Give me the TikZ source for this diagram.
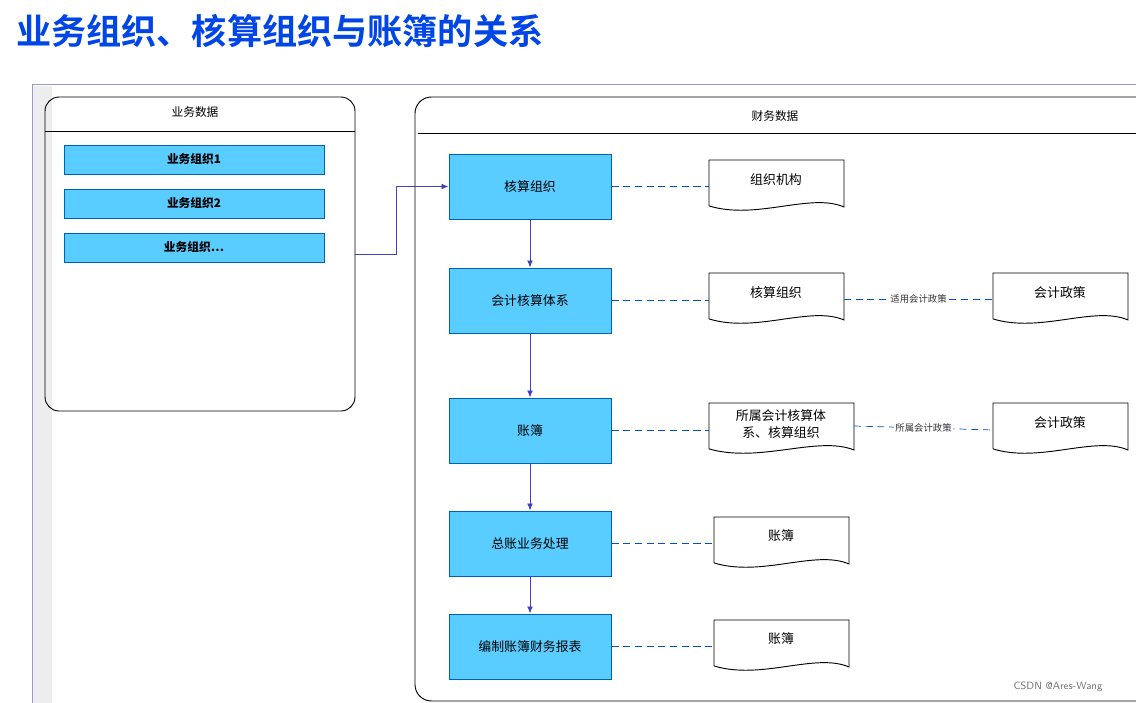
\documentclass[tikz,border=0pt]{standalone}
\usepackage{fontspec}
\setmainfont{Noto Sans CJK SC}
\newfontfamily\cjkb{Noto Sans CJK SC}[BoldFont=* Bold]
\usetikzlibrary{arrows.meta}
\begin{document}
\begin{tikzpicture}[x=0.03cm,y=-0.03cm,
  bar/.style={draw=blue!45!cyan!70!black,fill=blue!30!cyan!65,line width=0.8pt,inner sep=0},
  proc/.style={bar,minimum width=162*0.03cm,minimum height=65*0.03cm,font=\fontsize{11}{13}\selectfont},
  doc/.style={inner sep=0,align=center,font=\fontsize{11}{13}\selectfont},
  flow/.style={draw=blue!50!gray,line width=0.8pt,-{Latex[length=6pt,width=5pt]}},
  rel/.style={draw=blue!60!cyan!80!black,dash pattern=on 6pt off 4pt,line width=0.6pt},
  lab/.style={fill=white,inner sep=1pt,font=\fontsize{8}{9}\selectfont,text=black!80}]
\useasboundingbox (0,0) rectangle (1136,703);
% title
\node[anchor=west,text=blue!70!cyan!90!black,font=\cjkb\bfseries\fontsize{30}{32}\selectfont] (title) at (12,31) {业务组织、核算组织与账簿的关系};
% outer frame
\fill[black!7] (33,86) rectangle (52,703);
\draw[blue!35!gray!60,line width=0.8pt] (1136,84) -- (32,84) -- (32,703);
% left container
\draw[line width=0.8pt,rounded corners=12pt] (45,411) -- (45,97) -- (355,97) -- (355,411) -- cycle;
\draw[line width=0.8pt] (45,131) -- (355,131);
\node[font=\fontsize{10}{12}\selectfont] (bd) at (195,112) {业务数据};
\node[bar,minimum width=260*0.03cm,minimum height=29*0.03cm,font=\bfseries\fontsize{10}{12}\selectfont] (b1) at (194,159.5) {业务组织1};
\node[bar,minimum width=260*0.03cm,minimum height=29*0.03cm,font=\bfseries\fontsize{10}{12}\selectfont] (b2) at (194,203.5) {业务组织2};
\node[bar,minimum width=260*0.03cm,minimum height=29*0.03cm,font=\bfseries\fontsize{10}{12}\selectfont] (b3) at (194,247.5) {业务组织…};
% right container
\draw[line width=0.8pt,rounded corners=14pt] (1145,701) -- (415,701) -- (415,97) -- (1145,97);
\draw[line width=0.8pt] (418,133) -- (1136,133);
\node[font=\fontsize{10}{12}\selectfont] (fd) at (775,116) {财务数据};
% process boxes
\node[proc] (p1) at (530,186.5) {核算组织};
\node[proc] (p2) at (530,300.5) {会计核算体系};
\node[proc] (p3) at (530,430.5) {账簿};
\node[proc] (p4) at (530,543.5) {总账业务处理};
\node[proc] (p5) at (530,646.5) {编制账簿财务报表};
\draw[flow] (p1) -- (p2);
\draw[flow] (p2) -- (p3);
\draw[flow] (p3) -- (p4);
\draw[flow] (p4) -- (p5);
\coordinate (c1) at (355,254);
\draw[flow] (c1) -- (396,254) |- (p1.west);
% documents
\newcommand\docshape[5]{% name, x1,y1,x2,y2
  \draw[line width=0.8pt] (#2,{#3+0.85*(#5-#3)}) -- (#2,#3) -- (#4,#3) -- (#4,{#3+0.87*(#5-#3)})
    .. controls ({#4-0.25*(#4-#2)},{#3+0.6*(#5-#3)}) and ({#2+0.35*(#4-#2)},{#3+1.12*(#5-#3)}) .. (#2,{#3+0.85*(#5-#3)});
  \coordinate (#1w) at (#2,{(#3+#5)/2-7});
  \coordinate (#1e) at (#4,{(#3+#5)/2-7});}
\docshape{d1}{709}{160}{844}{214}
\node[doc] (t1) at (776,180) {组织机构};
\docshape{d2}{709}{273}{844}{327}
\node[doc] (t2) at (776,293) {核算组织};
\docshape{d3}{709}{403}{854}{457}
\node[doc,font=\fontsize{11}{14}\selectfont] (t3) at (781,424) {所属会计核算体\\系、核算组织};
\docshape{d4}{993}{273}{1128}{327}
\node[doc] (t4) at (1060,293) {会计政策};
\docshape{d5}{993}{403}{1128}{457}
\node[doc] (t5) at (1060,423) {会计政策};
\docshape{d6}{714}{517}{849}{571}
\node[doc] (t6) at (781,536) {账簿};
\docshape{d7}{714}{620}{849}{674}
\node[doc] (t7) at (781,639) {账簿};
% dashed relations
\draw[rel] (p1.east) -- (p1.east -| d1w);
\draw[rel] (p2.east) -- (p2.east -| d2w);
\draw[rel] (p3.east) -- (p3.east -| d3w);
\draw[rel] (p4.east) -- (p4.east -| d6w);
\draw[rel] (p5.east) -- (p5.east -| d7w);
\draw[rel] (d2e) ++(0,6) -- node[lab] (l1) {适用会计政策} (993,299);
\draw[rel] (d3e) ++(0,3) -- node[lab] (l2) {所属会计政策} (993,430);
\node[text=black!55,font=\fontsize{9}{10}\selectfont\sffamily] (wm) at (1058,687) {CSDN @Ares-Wang};
\end{tikzpicture}
\end{document}
